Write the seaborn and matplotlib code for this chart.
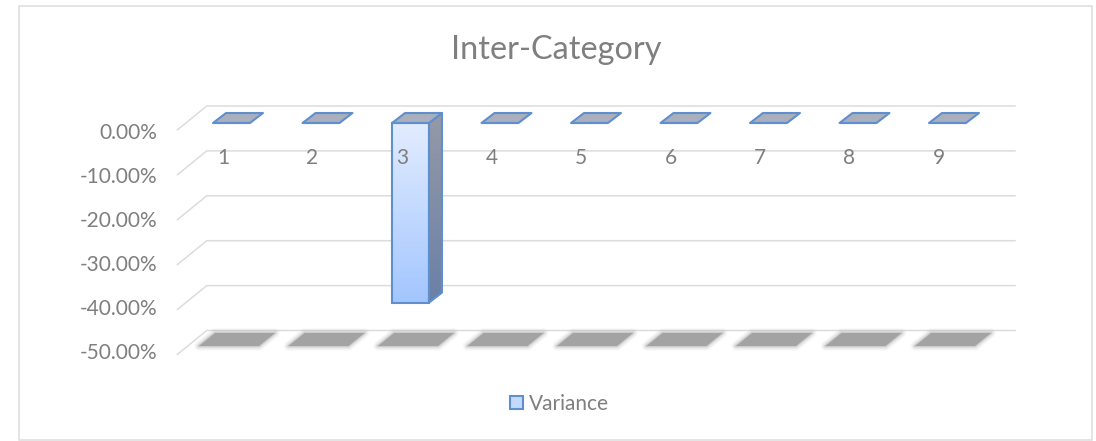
import numpy as np
import matplotlib
matplotlib.use('Agg')
import matplotlib.pyplot as plt
from matplotlib.colors import LinearSegmentedColormap
from matplotlib.patches import Patch, Polygon, Rectangle
from matplotlib.transforms import ScaledTranslation
import seaborn as sns

# values
categories = ['1', '2', '3', '4', '5', '6', '7', '8', '9']
variance = [0, 0, -40, 0, 0, 0, 0, 0, 0]
y_ticks = [0, -10, -20, -30, -40, -50]
y_labels = ['0.00%', '-10.00%', '-20.00%', '-30.00%', '-40.00%', '-50.00%']

W, H = 1096, 441
text_color = '#7f7f7f'
edge_color = '#5f8fcc'
grid_color = '#dcdcdc'

sns.set_theme(style='white')
plt.rcParams['font.family'] = ['Lato', 'DejaVu Sans']

fig = plt.figure(figsize=(W / 100, H / 100), dpi=100)
# axes is the plane of the bar fronts
left, right, top, bottom = 186.75, 992.25, 123, 347.5
ax = fig.add_axes([left / W, 1 - bottom / H, (right - left) / W, (bottom - top) / H])

sns.barplot(x=categories, y=variance, ax=ax, width=0.413, color='white', saturation=1,
            edgecolor=edge_color, linewidth=1.5, zorder=4)
ax.set_xlim(-0.5, 8.5)
ax.set_ylim(-50, 0)
sns.despine(ax=ax, left=True, bottom=True)
ax.set_xlabel('')
ax.set_ylabel('')

# pixel sizes in data units
px = (8.5 + 0.5) / (right - left)
py = 50 / (bottom - top)


def gradient(pts, c0, c1, z):
    # fill a polygon with a vertical gradient, clipped to the polygon
    cmap = LinearSegmentedColormap.from_list('g', [c0, c1])
    xs = [p[0] for p in pts]
    ys = [p[1] for p in pts]
    im = ax.imshow(np.linspace(0, 1, 128).reshape(-1, 1), cmap=cmap, aspect='auto', zorder=z,
                   extent=[min(xs), max(xs), min(ys), max(ys)], origin='upper')
    im.set_clip_path(Polygon(pts, closed=True, transform=ax.transData))
    im.set_clip_box(fig.bbox)


def poly(pts, z, **kw):
    ax.add_patch(Polygon(pts, closed=True, clip_on=False, zorder=z, **kw))


# walls: gridlines with the side-wall diagonal
for v in y_ticks:
    xs = [-0.5 - 9.5 * px, -0.5 + 20 * px, 8.5 + 23 * px]
    ys = [v - 7 * py, v + 17 * py, v + 17 * py]
    ax.plot(xs, ys, color=grid_color, lw=1.1, clip_on=False, zorder=1, solid_capstyle='round')

# floor shadows, soft edge from stacked polygons
for i in range(len(categories)):
    fx0 = i - 2.5 * px - 30 * px
    fx1 = i - 2.5 * px + 30 * px
    sx = 16 * px
    sy = 13 * py
    base = -50 + 1.5 * py
    pts = [(fx0, base), (fx1, base), (fx1 + sx, base + sy), (fx0 + sx, base + sy)]
    for lw, a in [(7, 0.06), (5.5, 0.08), (4, 0.12), (2.5, 0.2), (1.2, 0.3)]:
        poly(pts, 2, facecolor='none', edgecolor='#a6a6a6', alpha=a, lw=lw, joinstyle='round')
    poly(pts, 2, facecolor='#a3a3a3', edgecolor='none')

# 3d faces built from the bars seaborn drew
dx = 13 * px
dy = 10 * py
elw = 1.5
for bar in ax.patches[:len(categories)]:
    x0 = bar.get_x()
    x1 = x0 + bar.get_width()
    y_top = max(bar.get_y(), bar.get_y() + bar.get_height())
    y_bot = min(bar.get_y(), bar.get_y() + bar.get_height())
    if y_top != y_bot:
        front = [(x0, y_top), (x1, y_top), (x1, y_bot), (x0, y_bot)]
        gradient(front, '#e2ecfe', '#a3c6ff', 3)
        bar.set_facecolor('none')
        side = [(x1, y_top), (x1 + dx, y_top + dy), (x1 + dx, y_bot + dy), (x1, y_bot)]
        gradient(side, '#959aa6', '#6a80a8', 3)
        poly(side, 4, facecolor='none', edgecolor=edge_color, lw=elw, joinstyle='round')
    cap = [(x0, y_top), (x1, y_top), (x1 + dx, y_top + dy), (x0 + dx, y_top + dy)]
    poly(cap, 4, facecolor='#a9afbd', edgecolor=edge_color, lw=elw, joinstyle='round')
    bar.set_clip_on(False)
ax.set_xlim(-0.5, 8.5)
ax.set_ylim(-50, 0)

# tick labels sit on the wall, x labels run across the plot
ax.set_yticks(y_ticks)
ax.set_yticklabels(y_labels)
ax.tick_params(axis='y', length=0, pad=21.5, labelsize=15, labelcolor=text_color)
ax.xaxis.tick_top()
ax.tick_params(axis='x', length=0, pad=-32.3, labelsize=15, labelcolor=text_color)
ax.xaxis.set_zorder(10)
x_shift = ScaledTranslation(-8.5 / 100, 0, fig.dpi_scale_trans)
for lab in ax.get_xticklabels():
    lab.set_transform(lab.get_transform() + x_shift)
# labels are spaced a touch tighter than the gridlines
for v, lab in zip(y_ticks, ax.get_yticklabels()):
    y_shift = ScaledTranslation(0, -(8 + v * 0.09) / 100, fig.dpi_scale_trans)
    lab.set_transform(lab.get_transform() + y_shift)

fig.text(556 / W, 1 - 59 / H, 'Inter-Category', color=text_color, fontsize=23.3, ha='center', va='baseline')

handle = Patch(facecolor='#c4d9fe', edgecolor=edge_color, lw=1.5)
ax.legend(handles=[handle], labels=['Variance'], frameon=False, loc='center',
          bbox_to_anchor=(559.5 / W, 1 - 404 / H), bbox_transform=fig.transFigure,
          handlelength=0.62, handleheight=0.62, handletextpad=0.25, fontsize=15, labelcolor=text_color)

# chart frame
fig.add_artist(Rectangle((18.5 / W, 1 - 440 / H), (1092 - 18.5) / W, (440 - 5.5) / H, transform=fig.transFigure,
                         fill=False, edgecolor='#dcdcdc', lw=1.1))

fig.savefig('out.png', dpi=100)
